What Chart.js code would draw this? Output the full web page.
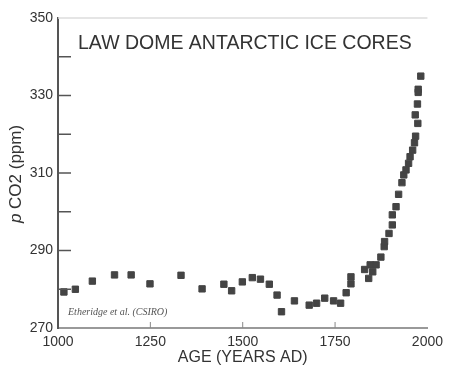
<!DOCTYPE html>
<html>
<head>
<meta charset="utf-8">
<script src="https://cdn.jsdelivr.net/npm/chart.js@4/dist/chart.umd.min.js"></script>
<style>
  html, body { margin: 0; padding: 0; background: #fff; }
  #wrap { width: 449px; height: 371px; }
</style>
</head>
<body>
<div id="wrap"><canvas id="lawDome"></canvas></div>
<script>
// Law Dome ice core CO2
const years = [1016, 1047, 1093, 1153, 1198, 1249, 1333, 1390, 1449, 1470,
    1499, 1526, 1548, 1572, 1593, 1605, 1640, 1680, 1700, 1722,
    1746, 1765, 1780, 1793, 1793, 1830, 1841, 1845, 1852, 1861,
    1874, 1883, 1884, 1896, 1905, 1905, 1915, 1922, 1931, 1936,
    1942, 1949, 1953, 1960, 1965, 1968, 1974, 1967, 1973, 1975,
    1975, 1982];
const co2 = [279.3, 280.0, 282.1, 283.7, 283.7, 281.4, 283.6, 280.1, 281.3, 279.6,
    281.9, 283.0, 282.6, 281.3, 278.5, 274.2, 277.0, 275.9, 276.4, 277.7,
    277.0, 276.4, 279.1, 281.4, 283.2, 285.1, 282.8, 286.3, 284.5, 286.3,
    288.3, 291.0, 292.3, 294.4, 296.6, 299.2, 301.3, 304.5, 307.5, 309.5,
    310.8, 312.5, 314.2, 315.9, 317.8, 319.5, 322.8, 325.0, 327.8, 330.8,
    331.6, 335.0];
const yLabelled = [270, 290, 310, 330, 350];

const points = [];
for (var i = 0; i < years.length; i++) {
    points.push({ x: years[i], y: co2[i] });
}

const textColor = '#333';

// inward tick marks, top rule and the texts
const decorPlugin = {
    id: 'decor',
    afterDraw(chart) {
        const ctx = chart.ctx;
        const a = chart.chartArea;
        const xs = chart.scales.x;
        const ys = chart.scales.y;
        ctx.save();
        ctx.strokeStyle = '#ddd';
        ctx.lineWidth = 1.5;
        ctx.beginPath();
        ctx.moveTo(a.left, a.top);
        ctx.lineTo(a.right, a.top);
        ctx.stroke();

        ctx.strokeStyle = '#555';
        ctx.lineWidth = 1.5;
        ys.ticks.forEach(function (t) {
            if (t.value <= ys.min || t.value >= ys.max) return;
            const py = ys.getPixelForValue(t.value);
            ctx.beginPath();
            ctx.moveTo(a.left, py);
            ctx.lineTo(a.left + 13, py);
            ctx.stroke();
        });
        ctx.strokeStyle = '#888';
        ctx.lineWidth = 1;
        xs.ticks.forEach(function (t) {
            if (t.value <= xs.min || t.value >= xs.max) return;
            const px = xs.getPixelForValue(t.value);
            ctx.beginPath();
            ctx.moveTo(px, a.bottom);
            ctx.lineTo(px, a.bottom - 6);
            ctx.stroke();
        });

        ctx.fillStyle = textColor;
        ctx.textBaseline = 'middle';
        ctx.textAlign = 'left';
        ctx.font = '19.5px "Liberation Sans", Arial, sans-serif';
        ctx.fillText('LAW DOME ANTARCTIC ICE CORES', 78, 44);

        ctx.textAlign = 'center';
        ctx.font = '16px "Liberation Sans", Arial, sans-serif';
        ctx.fillText('AGE (YEARS AD)', (a.left + a.right) / 2, 358);

        ctx.fillStyle = '#555';
        ctx.textAlign = 'left';
        ctx.font = 'italic 10px "Liberation Serif", serif';
        ctx.fillText('Etheridge et al. (CSIRO)', 68, 312);

        // y title: italic p then CO2 (ppm)
        ctx.fillStyle = textColor;
        ctx.translate(16, 174);
        ctx.rotate(-Math.PI / 2);
        const f1 = 'italic 17px "Liberation Sans", Arial, sans-serif';
        const f2 = '17px "Liberation Sans", Arial, sans-serif';
        ctx.font = f1;
        const w1 = ctx.measureText('p').width;
        ctx.font = f2;
        const rest = ' CO2 (ppm)';
        const w2 = ctx.measureText(rest).width;
        let x0 = -(w1 + w2) / 2;
        ctx.font = f1;
        ctx.fillText('p', x0, 0);
        ctx.font = f2;
        ctx.fillText(rest, x0 + w1, 0);
        ctx.restore();
    }
};

const lawDomeChart = new Chart('lawDome', {
    type: 'scatter',
    data: {
        datasets: [{
            label: 'CO2',
            data: points,
            pointStyle: 'rect',
            pointRadius: 4.5,
            pointBackgroundColor: '#444',
            pointBorderColor: '#444',
            pointBorderWidth: 1
        }]
    },
    options: {
        responsive: true,
        maintainAspectRatio: false,
        animation: false,
        layout: { padding: { top: 18, right: 13, left: 0, bottom: 0 } },
        plugins: {
            legend: { display: false },
            tooltip: { enabled: false }
        },
        scales: {
            x: {
                type: 'linear',
                min: 1000,
                max: 2000,
                afterFit: function (s) { s.height = 43; },
                ticks: {
                    stepSize: 250,
                    color: textColor,
                    padding: 6,
                    maxRotation: 0,
                    font: { family: '"Liberation Sans", Arial, sans-serif', size: 14 },
                    callback: function (v) { return String(v); }
                },
                grid: { display: true, drawOnChartArea: false, drawTicks: false },
                border: { display: true, color: '#999', width: 2 }
            },
            y: {
                min: 270,
                max: 350,
                afterFit: function (s) { s.width = 58; },
                ticks: {
                    stepSize: 10,
                    color: textColor,
                    padding: 5,
                    font: { family: '"Liberation Sans", Arial, sans-serif', size: 14 },
                    callback: function (v) { return yLabelled.indexOf(v) >= 0 ? v : ''; }
                },
                grid: { display: true, drawOnChartArea: false, drawTicks: false },
                border: { display: true, color: '#555', width: 2 }
            }
        }
    },
    plugins: [decorPlugin]
});
</script>
</body>
</html>
